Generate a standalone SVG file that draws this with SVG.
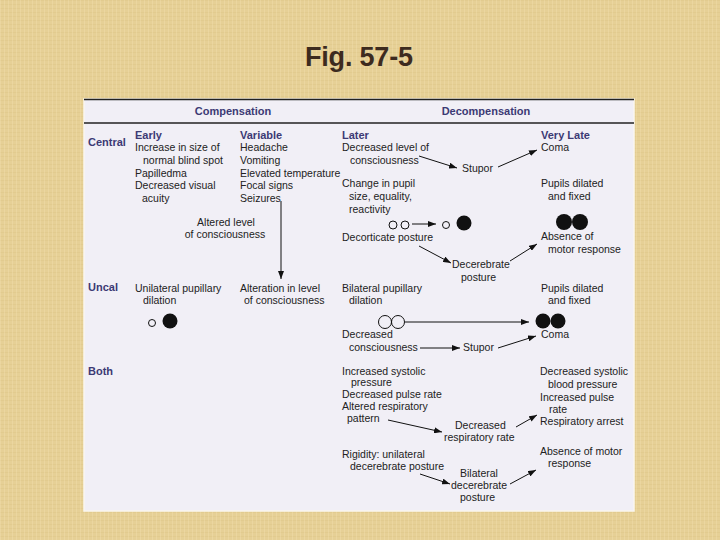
<svg xmlns="http://www.w3.org/2000/svg" width="720" height="540" viewBox="0 0 720 540">
<defs>
<pattern id="linen" width="4" height="4" patternUnits="userSpaceOnUse">
<rect width="4" height="4" fill="#e6d096"/>
<path d="M0 0.5H4" stroke="#d6bb7a" stroke-width="1" opacity="0.25"/>
<path d="M0.5 0V4" stroke="#f3e4b6" stroke-width="1" opacity="0.3"/>
</pattern>
<marker id="ah" viewBox="0 0 8 6" refX="8" refY="3" markerWidth="8" markerHeight="6" markerUnits="userSpaceOnUse" orient="auto">
<path d="M0,0 L8,3 L0,6 z" fill="#111"/>
</marker>
<style>
.h{font-family:"Liberation Sans",Arial,sans-serif;font-size:11px;font-weight:bold;fill:#3c3a74}
.t{font-family:"Liberation Sans",Arial,sans-serif;font-size:10.5px;fill:#222}
.m{text-anchor:middle}
.c{stroke:#111;stroke-width:1;fill:none;marker-end:url(#ah)}
.o{fill:none;stroke:#111;stroke-width:1}
.f{fill:#111}
.rule{stroke:#222;stroke-width:1.5}
</style>
</defs>
<rect width="720" height="540" fill="url(#linen)"/>
<text x="359" y="66" text-anchor="middle" font-family="'Liberation Sans',Arial,sans-serif" font-size="27" font-weight="bold" fill="#3d2b1f" textLength="108">Fig. 57-5</text>
<rect id="panel" x="84" y="99" width="550" height="412" fill="#f1eff6" stroke="#faf6ee" stroke-width="1.5"/>
<line class="rule" x1="84" y1="99.5" x2="634" y2="99.5"/>
<line class="rule" x1="84" y1="123" x2="634" y2="123"/>

<g id="header">
<text class="h m" x="233" y="115">Compensation</text>
<text class="h m" x="486" y="115">Decompensation</text>
</g>

<g id="row-labels">
<text class="h" x="88" y="146">Central</text>
<text class="h" x="88" y="291">Uncal</text>
<text class="h" x="88" y="375">Both</text>
</g>

<g id="central-early">
<text class="h" x="135" y="139">Early</text>
<text class="t" x="135" y="151">Increase in size of</text>
<text class="t" x="143" y="164">normal blind spot</text>
<text class="t" x="135" y="177">Papilledma</text>
<text class="t" x="135" y="189">Decreased visual</text>
<text class="t" x="142" y="202">acuity</text>
</g>
<g id="central-variable">
<text class="h" x="240" y="139">Variable</text>
<text class="t" x="240" y="151">Headache</text>
<text class="t" x="240" y="164">Vomiting</text>
<text class="t" x="240" y="177">Elevated temperature</text>
<text class="t" x="240" y="189">Focal signs</text>
<text class="t" x="240" y="202">Seizures</text>
</g>
<g id="altered-level">
<text class="t m" x="226" y="226">Altered level</text>
<text class="t m" x="225" y="238">of consciousness</text>
</g>
<g id="central-later">
<text class="h" x="342" y="139">Later</text>
<text class="t" x="342" y="151">Decreased level of</text>
<text class="t" x="350" y="164">consciousness</text>
</g>
<g id="central-stupor"><text class="t" x="462" y="172">Stupor</text></g>
<g id="central-coma">
<text class="h" x="541" y="139">Very Late</text>
<text class="t" x="541" y="151">Coma</text>
</g>
<g id="central-pupil-change">
<text class="t" x="342" y="187">Change in pupil</text>
<text class="t" x="349" y="200">size, equality,</text>
<text class="t" x="349" y="213">reactivity</text>
<circle class="o" cx="393" cy="225" r="4"/>
<circle class="o" cx="405" cy="225" r="4"/>
<circle class="o" cx="446" cy="225" r="3.5"/>
<circle class="f" cx="464" cy="223" r="7.5"/>
</g>
<g id="central-pupils-fixed">
<text class="t" x="541" y="187">Pupils dilated</text>
<text class="t" x="548" y="200">and fixed</text>
<circle class="f" cx="564" cy="222" r="8"/>
<circle class="f" cx="580" cy="222" r="8"/>
</g>
<g id="decorticate"><text class="t" x="342" y="241">Decorticate posture</text></g>
<g id="decerebrate">
<text class="t" x="452" y="268">Decerebrate</text>
<text class="t" x="461" y="281">posture</text>
</g>
<g id="central-absence">
<text class="t" x="541" y="240">Absence of</text>
<text class="t" x="548" y="253">motor response</text>
</g>

<g id="uncal-unilateral">
<text class="t" x="135" y="292">Unilateral pupillary</text>
<text class="t" x="143" y="304">dilation</text>
<circle class="o" cx="152" cy="323" r="3.5"/>
<circle class="f" cx="170" cy="321" r="7.5"/>
</g>
<g id="uncal-alteration">
<text class="t" x="240" y="292">Alteration in level</text>
<text class="t" x="244" y="304">of consciousness</text>
</g>
<g id="uncal-bilateral">
<text class="t" x="342" y="292">Bilateral pupillary</text>
<text class="t" x="349" y="304">dilation</text>
<circle class="o" cx="385" cy="322" r="6.5"/>
<circle class="o" cx="398" cy="322" r="6.5"/>
</g>
<g id="uncal-pupils-fixed">
<text class="t" x="541" y="292">Pupils dilated</text>
<text class="t" x="548" y="304">and fixed</text>
<circle class="f" cx="543" cy="321" r="7.5"/>
<circle class="f" cx="558" cy="321" r="7.5"/>
</g>
<g id="uncal-decreased">
<text class="t" x="342" y="338">Decreased</text>
<text class="t" x="349" y="351">consciousness</text>
</g>
<g id="uncal-stupor"><text class="t" x="463" y="351">Stupor</text></g>
<g id="uncal-coma"><text class="t" x="541" y="338">Coma</text></g>

<g id="both-early">
<text class="t" x="342" y="375">Increased systolic</text>
<text class="t" x="351" y="386">pressure</text>
<text class="t" x="342" y="398">Decreased pulse rate</text>
<text class="t" x="342" y="410">Altered respiratory</text>
<text class="t" x="347" y="422">pattern</text>
</g>
<g id="both-resp-rate">
<text class="t" x="455" y="429">Decreased</text>
<text class="t" x="444" y="441">respiratory rate</text>
</g>
<g id="both-late">
<text class="t" x="540" y="375">Decreased systolic</text>
<text class="t" x="548" y="388">blood pressure</text>
<text class="t" x="540" y="401">Increased pulse</text>
<text class="t" x="549" y="413">rate</text>
<text class="t" x="540" y="425">Respiratory arrest</text>
</g>
<g id="both-rigidity">
<text class="t" x="342" y="458">Rigidity: unilateral</text>
<text class="t" x="350" y="470">decerebrate posture</text>
</g>
<g id="both-bilateral">
<text class="t" x="460" y="477">Bilateral</text>
<text class="t" x="451" y="489">decerebrate</text>
<text class="t" x="460" y="501">posture</text>
</g>
<g id="both-absence">
<text class="t" x="540" y="455">Absence of motor</text>
<text class="t" x="548" y="467">response</text>
</g>

<g id="connectors">
<line class="c" x1="281" y1="201" x2="281" y2="279"/>
<line class="c" x1="419" y1="156" x2="457" y2="168"/>
<line class="c" x1="498" y1="167" x2="537" y2="150"/>
<line class="c" x1="412" y1="224" x2="436" y2="224"/>
<line class="c" x1="419" y1="246" x2="451" y2="263"/>
<line class="c" x1="510" y1="261" x2="537" y2="244"/>
<line class="c" x1="405" y1="322" x2="529" y2="322"/>
<line class="c" x1="420" y1="348" x2="460" y2="348"/>
<line class="c" x1="498" y1="348" x2="536" y2="336"/>
<line class="c" x1="388" y1="420" x2="442" y2="432"/>
<line class="c" x1="516" y1="427" x2="537" y2="415"/>
<line class="c" x1="420" y1="474" x2="450" y2="484"/>
<line class="c" x1="510" y1="484" x2="536" y2="470"/>
</g>
</svg>
